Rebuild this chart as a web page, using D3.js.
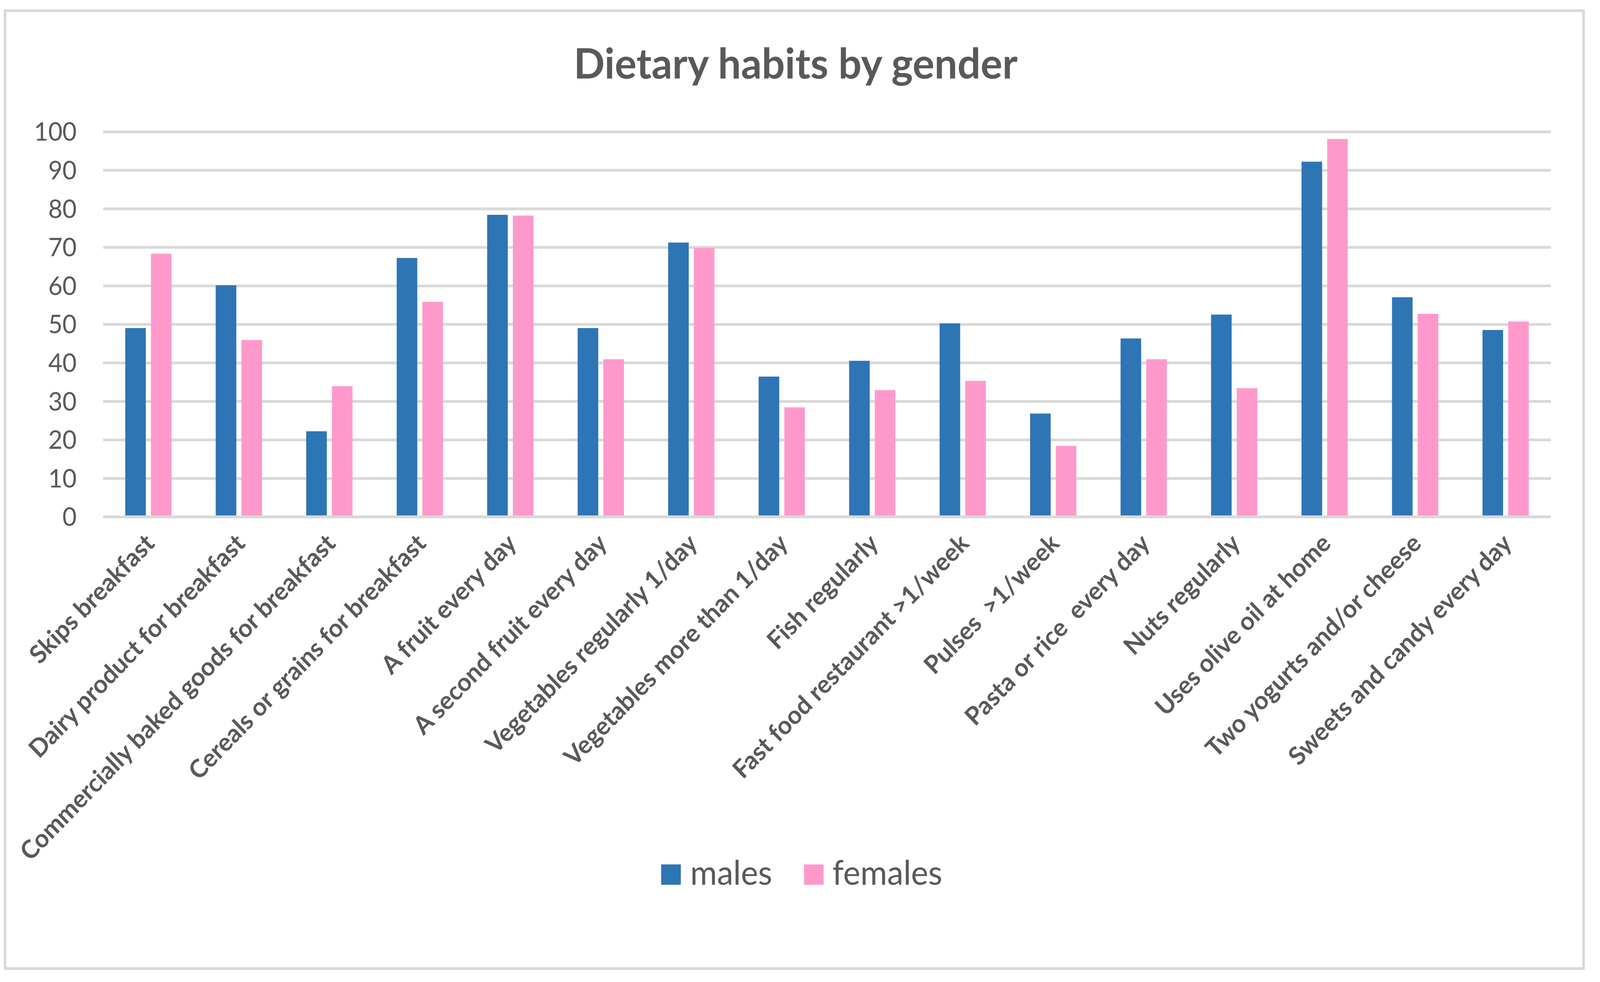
<!DOCTYPE html>
<html>
<head>
<meta charset="utf-8">
<script src="https://cdn.jsdelivr.net/npm/d3@7"></script>
<style>
	html, body { margin: 0; padding: 0; background: #fff; overflow: hidden; width: 100%; height: 100%; }
	svg { display: block; width: 100vw; height: 100vh; }
	text { font-family: Lato, 'Open Sans', sans-serif; fill: #595959; white-space: pre; }
</style>
</head>
<body>
<svg viewBox="0 0 4235 2514" preserveAspectRatio="none"></svg>
<script>

const categories = [
	'Skips breakfast',
	'Dairy product for breakfast',
	'Commercially baked goods for breakfast',
	'Cereals or grains for breakfast',
	'A fruit every day',
	'A second fruit every day',
	'Vegetables regularly 1/day',
	'Vegetables more than 1/day',
	'Fish regularly',
	'Fast food restaurant >1/week',
	'Pulses  >1/week',
	'Pasta or rice  every day',
	'Nuts regularly',
	'Uses olive oil at home',
	'Two yogurts and/or cheese',
	'Sweets and candy every day'
]

const males = [ 49.0, 60.1, 22.2, 67.2, 78.4, 49.0, 71.2, 36.4, 40.5, 50.2, 26.8, 46.3, 52.5, 92.2, 57.0, 48.5 ]
const females = [ 68.3, 45.9, 33.9, 55.8, 78.2, 40.9, 69.8, 28.4, 32.9, 35.3, 18.4, 40.9, 33.4, 98.1, 52.7, 50.7 ]

const seriesNames = [ 'males', 'females' ]
const yTicks = [ 0, 10, 20, 30, 40, 50, 60, 70, 80, 90, 100 ]

const svg = d3.select( 'svg' ),
	grey = '#d9d9d9',
	color = d3.scaleOrdinal().domain( seriesNames ).range( [ '#2e75b6', '#ff99cc' ] )

// fit a text element to a target width by scaling its font size
function fit( sel, size, target ) {
	sel.style( 'font-size', size + 'px' )
	const len = sel.node().getComputedTextLength()
	const s = size * target / len
	sel.style( 'font-size', s + 'px' )
	return s
}

const rows = categories.map( ( c, i ) => ( { name: c, values: { males: males[ i ], females: females[ i ] } } ) )

const x = d3.scaleBand()
	.domain( categories )
	.range( [ 273, 4105 ] )
	.paddingInner( 0.4885 )
	.paddingOuter( 0.2443 )

const xs = d3.scaleBand()
	.domain( seriesNames )
	.range( [ 0, x.bandwidth() ] )
	.paddingInner( 0.1985 )

const y = d3.scaleLinear()
	.domain( [ 0, 100 ] )
	.range( [ 1323, 337 ] )

// chart frame
svg.append( 'rect' )
	.attr( 'x', 13.5 )
	.attr( 'y', 27.5 )
	.attr( 'width', 4178 )
	.attr( 'height', 2452 )
	.attr( 'fill', '#fff' )
	.attr( 'stroke', grey )
	.attr( 'stroke-width', 7 )

// title
const title = svg.append( 'text' )
	.attr( 'x', 2106 )
	.attr( 'y', 201 )
	.attr( 'text-anchor', 'middle' )
	.attr( 'font-weight', 700 )
	.text( 'Dietary habits by gender' )
fit( title, 100, 1175 )

// gridlines
const grid = svg.append( 'g' )
	.call( d3.axisLeft( y ).tickValues( yTicks ).tickSize( -( x.range()[ 1 ] - x.range()[ 0 ] ) ).tickFormat( '' ) )
	.attr( 'transform', `translate(${ x.range()[ 0 ] },0)` )
grid.select( '.domain' ).remove()
grid.selectAll( 'line' )
	.attr( 'stroke', grey )
	.attr( 'stroke-width', 7 )

// tick labels
svg.append( 'g' )
	.selectAll( 'text' )
	.data( yTicks )
	.enter()
	.append( 'text' )
	.attr( 'x', 203 )
	.attr( 'y', d => y( d ) )
	.attr( 'dy', '0.36em' )
	.attr( 'text-anchor', 'end' )
	.style( 'font-size', '65px' )
	.text( d => d )

// bars
const group = svg.append( 'g' )
	.selectAll( 'g' )
	.data( rows )
	.enter()
	.append( 'g' )
	.attr( 'transform', d => `translate(${ x( d.name ) },0)` )

group.selectAll( 'rect' )
	.data( d => seriesNames.map( k => ( { key: k, value: d.values[ k ] } ) ) )
	.enter()
	.append( 'rect' )
	.attr( 'x', d => xs( d.key ) )
	.attr( 'y', d => y( d.value ) )
	.attr( 'width', xs.bandwidth() )
	.attr( 'height', d => y( 0 ) - y( d.value ) )
	.attr( 'fill', d => color( d.key ) )

// baseline on top of bars
svg.append( 'line' )
	.attr( 'x1', x.range()[ 0 ] )
	.attr( 'x2', x.range()[ 1 ] )
	.attr( 'y1', y( 0 ) )
	.attr( 'y2', y( 0 ) )
	.attr( 'stroke', grey )
	.attr( 'stroke-width', 7 )

// category labels, rotated
const labels = svg.append( 'g' )
	.selectAll( 'text' )
	.data( categories )
	.enter()
	.append( 'text' )
	.attr( 'text-anchor', 'end' )
	.attr( 'font-weight', 700 )
	.text( d => d )

const longest = labels.filter( d => d === 'Commercially baked goods for breakfast' )
const fs = fit( longest, 60, 1148 )
labels.style( 'font-size', fs + 'px' )

labels.attr( 'transform', d => {
	const cx = x( d ) + x.bandwidth() / 2
	return `translate(${ cx + 20 },${ 1395 }) rotate(-45)`
})

// legend
const legend = svg.append( 'g' )
const lm = legend.append( 'g' )
lm.append( 'rect' )
	.attr( 'x', 1750 ).attr( 'y', 2213 )
	.attr( 'width', 52 ).attr( 'height', 52 )
	.attr( 'fill', color( 'males' ) )
const maleText = lm.append( 'text' )
	.attr( 'x', 1827 ).attr( 'y', 2265 )
	.text( 'males' )
const ls = fit( maleText, 85, 217 )

const lf = legend.append( 'g' )
lf.append( 'rect' )
	.attr( 'x', 2128 ).attr( 'y', 2213 )
	.attr( 'width', 52 ).attr( 'height', 52 )
	.attr( 'fill', color( 'females' ) )
lf.append( 'text' )
	.attr( 'x', 2203 ).attr( 'y', 2265 )
	.style( 'font-size', ls + 'px' )
	.text( 'females' )

</script>
</body>
</html>
